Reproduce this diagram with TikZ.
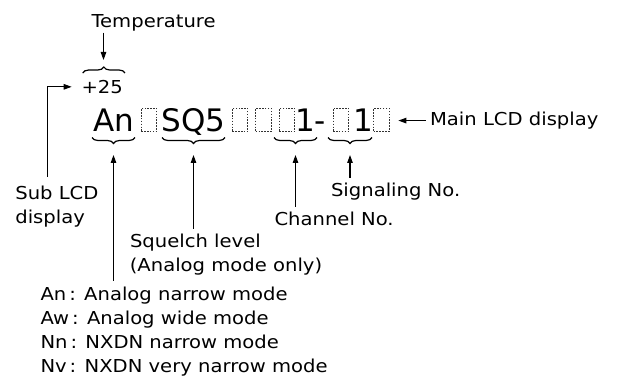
\documentclass[tikz,border=0pt]{standalone}
\usepackage{fontspec}
\setmainfont{DejaVu Sans}[FakeStretch=1.1]
\newfontfamily\lcdfont{DejaVu Sans}
\usetikzlibrary{arrows.meta,decorations.pathreplacing}

\begin{document}
\begin{tikzpicture}[x=1pt,y=-1pt,line width=1.1pt,>={Triangle[length=8pt,width=5.5pt]},
  lbl/.style={inner sep=0pt,anchor=base west,font=\fontsize{17.8}{22}\selectfont},
  lcd/.style={inner sep=0pt,anchor=base,font=\lcdfont\fontsize{31}{36}\selectfont},
  cell/.style={draw=black!80,line width=0.6pt,dash pattern=on 1.6pt off 1.3pt,
    minimum width=15.5pt,minimum height=23.3pt,inner sep=0pt},
  ubrace/.style={decorate,decoration={brace,amplitude=6pt},line width=1.2pt},
  callout/.style={->,shorten <=5pt}]
\useasboundingbox (0,0) rectangle (619,377);
% ---------- main LCD line ----------
\node[lcd] (mode) at (113.9,131.7) {An};
\node[lcd] (sq)   at (193.7,131.7) {SQ5};
\node[lcd] (chan) at (305.5,131.7) {1};
\node[lcd] (hyph) at (320,131.7) {-};
\node[lcd] (sig)  at (363,131.7) {1};
\foreach \x [count=\i] in {148.9,240,263.4,287,340.8,381.3}
  \node[cell] (cell\i) at (\x,120) {};
% ---------- sub LCD: temperature ----------
\node[lbl] (tempVal) at (81,93.3) {+25};
\draw[ubrace] (82.7,73) -- (125,73);
\node[lbl] (tempLbl) at (91,27.3) {Temperature};
\coordinate (tempTip) at (103.5,60);
\draw[->,shorten <=1pt] (tempLbl.south -| tempTip) -- (tempTip);
% ---------- braces under the main line ----------
\draw[ubrace] (135,137.5) -- (92,137.5);
\draw[ubrace] (225,137.5) -- (162,137.5);
\draw[ubrace] (317,137.5) -- (274,137.5);
\draw[ubrace] (372,137.5) -- (328,137.5);
\coordinate (modeTip) at (113.5,155);
\coordinate (sqTip)   at (193.5,155);
\coordinate (chanTip) at (295.5,155);
\coordinate (sigTip)  at (350,155);
% ---------- labels ----------
\node[lbl] (mainLbl) at (429.5,125.5) {Main LCD display};
\draw[->,shorten <=4pt,shorten >=9pt] (mainLbl.west) -- (mainLbl.west -| cell6.east);
\node[lbl] (subLbl)  at (14.8,200) {Sub LCD};
\node[lbl] (subLbl2) at (14.8,223.3) {display};
\coordinate (subFoot) at (47.7,177);
\draw[->] (subFoot) |- ([xshift=-9.3pt]tempVal.west);
\node[lbl] (sigLbl)  at (330.5,196.7) {Signaling No.};
\draw[callout] (sigLbl.north -| sigTip) -- (sigTip);
\node[lbl] (chanLbl) at (274,225.7) {Channel No.};
\draw[callout] (chanLbl.north -| chanTip) -- (chanTip);
\node[lbl] (sqLbl)   at (129.5,247.7) {Squelch level};
\node[lbl] (sqLbl2)  at (129.3,271.7) {(Analog mode only)};
\draw[callout] (sqLbl.north -| sqTip) -- (sqTip);
% ---------- mode list ----------
\node[lbl] (list1) at (40,300)   {An\,: Analog narrow mode};
\node[lbl] (list2) at (40,324.3) {Aw\,: Analog wide mode};
\node[lbl] (list3) at (40,348.5) {Nn\,: NXDN narrow mode};
\node[lbl] (list4) at (40,372.5) {Nv\,: NXDN very narrow mode};
\draw[callout] (list1.north -| modeTip) -- (modeTip);
\end{tikzpicture}
\end{document}
